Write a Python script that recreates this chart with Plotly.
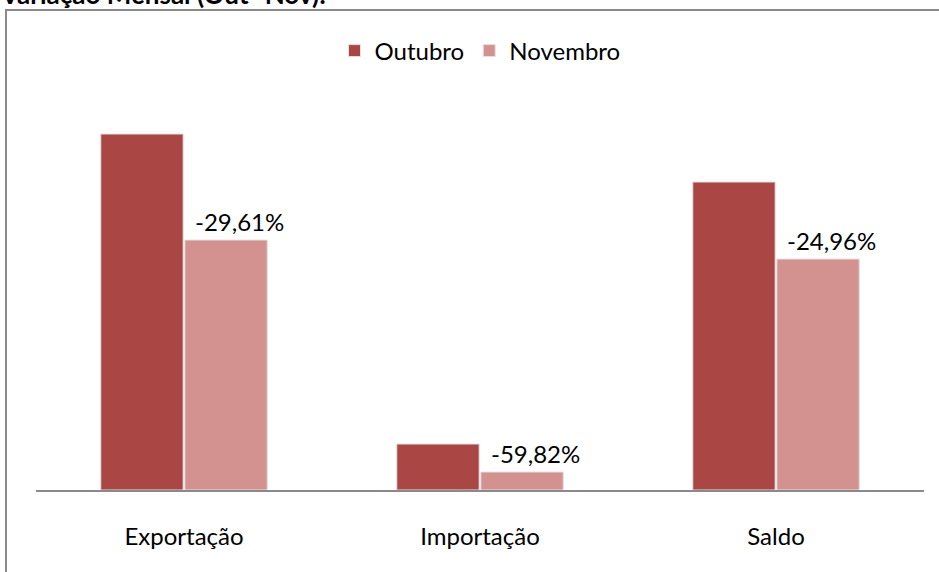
import plotly.graph_objects as go

categorias = ["Exportação", "Importação", "Saldo"]
outubro = [356, 46, 308]
novembro = [250, 18, 231]
variacao = ["-29,61%", "-59,82%", "-24,96%"]
titulo = "Variação Mensal (Out- Nov):"

FONT = "Lato"
FS = 24
W, H = 939, 572
L, R, T, B = 36, 15, 80, 82
pw, ph = W - L - R, H - T - B

fig = go.Figure()
fig.add_trace(go.Bar(name="Outubro", x=categorias, y=outubro,
                     marker=dict(color="#AA4643", line=dict(color="#e2e2e2", width=1))))
fig.add_trace(go.Bar(name="Novembro", x=categorias, y=novembro,
                     marker=dict(color="#D3918F", line=dict(color="#e2e2e2", width=1))))

for c, v, t in zip(categorias, novembro, variacao):
    fig.add_annotation(x=c, y=v, text=t, showarrow=False, xref="x", yref="y",
                       xanchor="center", yanchor="bottom", xshift=55, yshift=2,
                       font=dict(family=FONT, size=FS, color="#000000"))

# title, cut at top like the reference
fig.add_annotation(text="<b>" + titulo + "</b>", xref="paper", yref="paper",
                   x=(-2 - L) / pw, y=(H - B - 12) / ph, xanchor="left", yanchor="bottom",
                   showarrow=False, font=dict(family=FONT, size=26, color="#000000"))

# chart border
fig.add_shape(type="rect", xref="paper", yref="paper",
              x0=(6 - L) / pw, x1=(960 - L) / pw,
              y0=(H - B - 600) / ph, y1=(H - B - 10) / ph,
              line=dict(color="#8a8a8a", width=2), fillcolor="rgba(0,0,0,0)", layer="below")

fig.update_layout(
    width=W, height=H,
    margin=dict(l=L, r=R, t=T, b=B, pad=0),
    paper_bgcolor="white", plot_bgcolor="white",
    barmode="group", bargap=0.432, bargroupgap=0.02,
    font=dict(family=FONT, size=FS, color="#000000"),
    legend=dict(orientation="h", x=0.5, xanchor="center", y=(H - B - 51) / ph, yanchor="middle",
                font=dict(family=FONT, size=FS), itemwidth=30, traceorder="normal",
                bgcolor="rgba(0,0,0,0)"),
    showlegend=True,
    xaxis=dict(showline=True, linecolor="#8a8a8a", linewidth=2, ticks="",
               showgrid=False, tickfont=dict(family=FONT, size=FS), ticklabelstandoff=24),
    yaxis=dict(range=[0, ph], visible=False, showgrid=False, zeroline=False),
)

fig.write_html("out.html", config={"displayModeBar": False},
               post_script="document.body.style.margin='0';document.body.style.overflow='hidden';")
